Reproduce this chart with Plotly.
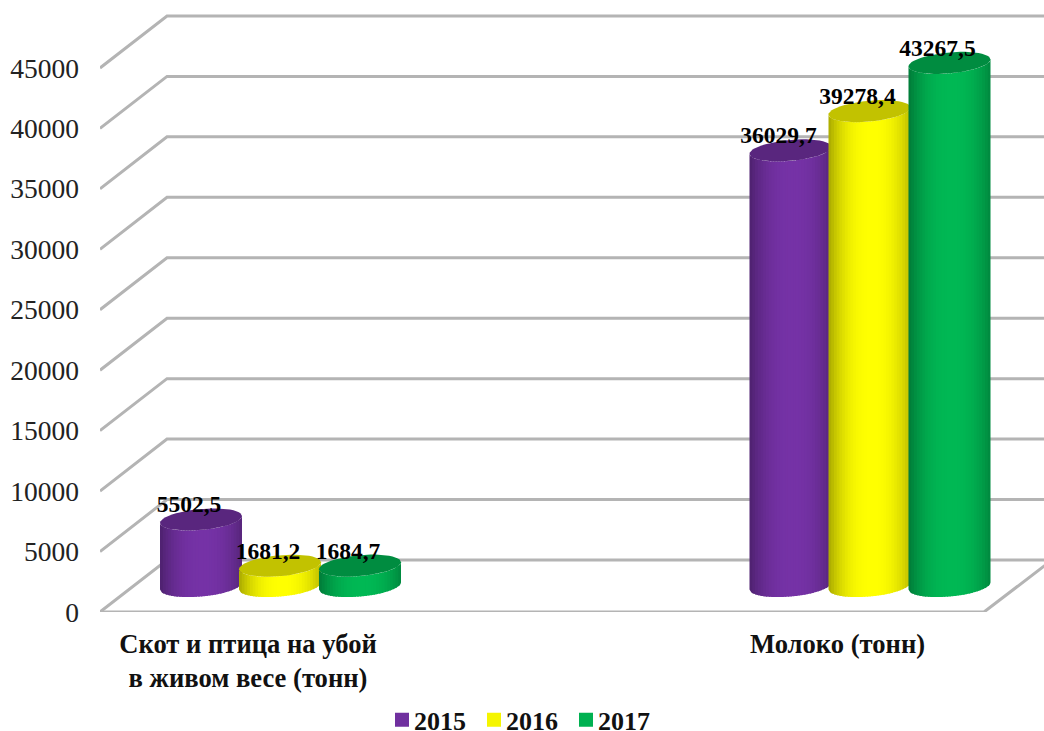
import math
import plotly.graph_objects as go

# ---- data ----
categories = ["Скот и птица на убой<br>в живом весе (тонн)", "Молоко (тонн)"]
years = ["2015", "2016", "2017"]
values_2015 = [5502.5, 36029.7]
values_2016 = [1681.2, 39278.4]
values_2017 = [1684.7, 43267.5]
y_ticks = [0, 5000, 10000, 15000, 20000, 25000, 30000, 35000, 40000, 45000]

# ---- styling / layout constants ----
FONT = "Liberation Serif"
W, H = 1044, 731
L, B = 100, 119
PX_PER_UNIT = 60.45 / 5000          # vertical scale of the front plane
UNIT = 1 / PX_PER_UNIT              # value units per pixel
cat_pos = [248, 837.5]              # tick positions on the front floor edge
DX, DY = 67, 52 * UNIT              # depth of the oblique box
FLOOR_END = 984
RIGHT_END = 1052
series_off = [-79, 0, 80]
RX, RY, TILT = 41, 10.5 * UNIT, 3.5 * UNIT
colors = [(0x75, 0x32, 0xA6), (0xFF, 0xFF, 0x00), (0x00, 0xB8, 0x54)]
N_SLICES = 30
GRID = "#b4b4b4"


def rgb(c, f):
    return "rgb(%d,%d,%d)" % tuple(round(v * f) for v in c)


fig = go.Figure()

# gridlines of the left wall and back wall
gx, gy = [], []
for t in y_ticks:
    gx += [L, L + DX, RIGHT_END, None]
    gy += [t, t + DY, t + DY, None]
gx += [L, FLOOR_END, RIGHT_END, None]
gy += [0, 0, DY, None]
fig.add_trace(go.Scatter(x=gx, y=gy, mode="lines", line=dict(color=GRID, width=3),
                         hoverinfo="skip", showlegend=False))


def lower(cx, cy, x):
    u = max(-1, min(1, (x - cx) / RX))
    return cy - RY * math.sqrt(1 - u * u) + TILT * u


all_values = [values_2015, values_2016, values_2017]
lab_x, lab_y, lab_t = [], [], []
for s, vals in enumerate(all_values):
    c = colors[s]
    for k, v in enumerate(vals):
        cx = cat_pos[k] + DX / 2 - 1.5 + series_off[s]
        base = DY / 2
        top = base + v
        # shaded body made of narrow vertical strips, each overlapping the next
        for i in range(N_SLICES):
            x0 = cx - RX + 2 * RX * i / N_SLICES
            x1 = cx - RX + 2 * RX * (i + 1) / N_SLICES
            if i < N_SLICES - 1:
                x1 += 1.5
            u = ((x0 + cx - RX + 2 * RX * (i + 1) / N_SLICES) / 2 - cx) / RX
            f = 1 - 0.30 * abs(u - 0.05) ** 2.4
            xs = [x0 + (x1 - x0) * j / 5 for j in range(6)]
            xe = xs + xs[::-1] + [xs[0]]
            ye = ([lower(cx, base, x) for x in xs] + [lower(cx, top, x) for x in xs[::-1]]
                  + [lower(cx, base, xs[0])])
            fig.add_trace(go.Scatter(x=xe, y=ye, mode="lines", fill="toself",
                                     line=dict(width=0), fillcolor=rgb(c, f),
                                     hoverinfo="skip", showlegend=False))
        # darker top cap
        n = 48
        xt = [cx + RX * math.cos(2 * math.pi * j / n) for j in range(n + 1)]
        yt = [top + RY * math.sin(2 * math.pi * j / n) + TILT * math.cos(2 * math.pi * j / n)
              for j in range(n + 1)]
        fig.add_trace(go.Scatter(x=xt, y=yt, mode="lines", fill="toself",
                                 line=dict(width=0), fillcolor=rgb(c, 0.76),
                                 hoverinfo="skip", showlegend=False))
        lab_x.append(cx - 12)
        lab_y.append(top + 13 * UNIT)
        lab_t.append(f"{v:.1f}".replace(".", ","))

fig.add_trace(go.Scatter(x=lab_x, y=lab_y, text=lab_t, mode="text", textposition="middle center",
                         textfont=dict(family=FONT, size=23.5, color="black", weight="bold"),
                         hoverinfo="skip", showlegend=False, cliponaxis=False))

# legend entries
for name, c in zip(years, colors):
    fig.add_trace(go.Scatter(x=[None], y=[None], mode="markers", name=name,
                             marker=dict(symbol="square", size=14, color=rgb(c, 0.96))))

fig.update_layout(
    width=W, height=H, autosize=False,
    margin=dict(l=L, r=0, t=0, b=B, pad=0, autoexpand=False),
    paper_bgcolor="white", plot_bgcolor="white",
    font=dict(family=FONT, color="#111111"),
    xaxis=dict(range=[L, W], tickmode="array", tickvals=cat_pos, ticktext=categories,
               showgrid=False, zeroline=False, showline=False, ticks="",
               ticklabelstandoff=13, automargin=False,
               tickfont=dict(family=FONT, size=26.6, color="#111111", weight="bold")),
    yaxis=dict(range=[0, (H - B) * UNIT], tickmode="array", tickvals=y_ticks,
               ticktext=[str(t) for t in y_ticks],
               showgrid=False, zeroline=False, showline=False, ticks="",
               ticklabelstandoff=20, automargin=False,
               tickfont=dict(family=FONT, size=27.5, color="#222222")),
    legend=dict(orientation="h", x=(382 - L) / (W - L), xanchor="left",
                y=-0.138, yanchor="top", entrywidth=47, entrywidthmode="pixels",
                font=dict(family=FONT, size=26, color="#111111", weight="bold"),
                bgcolor="rgba(0,0,0,0)", itemclick=False, itemdoubleclick=False),
)

fig.write_html(
    "out.html",
    config={"displayModeBar": False},
    post_script=(
        "document.body.style.margin='0';"
        "document.querySelectorAll('.legendtext').forEach(function(t){"
        "t.setAttribute('x', parseFloat(t.getAttribute('x'))-8);});"
    ),
)
